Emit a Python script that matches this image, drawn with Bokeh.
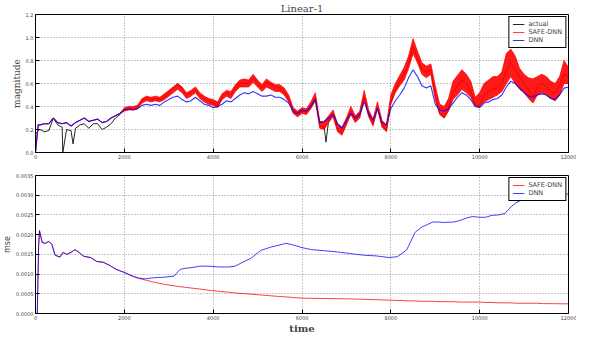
from bokeh.plotting import figure
from bokeh.layouts import column
from bokeh.models import Legend, LegendItem, NumeralTickFormatter, FixedTicker, Range1d
from bokeh.embed import file_html
from bokeh.resources import INLINE

# ---------------- data ----------------
time_top = [0, 60] + list(range(100, 12001, 100))

dnn_top = [0.0, 0.24,
    0.24, 0.25, 0.25, 0.30, 0.26, 0.25, 0.26, 0.23, 0.26, 0.28,
    0.30, 0.27, 0.28, 0.29, 0.26, 0.27, 0.30, 0.32, 0.34, 0.37,
    0.38, 0.37, 0.38, 0.41, 0.42, 0.41, 0.42, 0.41, 0.44, 0.46,
    0.48, 0.49, 0.46, 0.44, 0.45, 0.48, 0.45, 0.42, 0.41, 0.39,
    0.40, 0.42, 0.45, 0.44, 0.47, 0.50, 0.52, 0.51, 0.53, 0.51,
    0.49, 0.49, 0.50, 0.48, 0.48, 0.46, 0.43, 0.36, 0.34, 0.37,
    0.36, 0.40, 0.46, 0.26, 0.27, 0.30, 0.33, 0.25, 0.21, 0.28,
    0.34, 0.30, 0.33, 0.44, 0.34, 0.28, 0.38, 0.26, 0.24, 0.38,
    0.45, 0.50, 0.56, 0.65, 0.72, 0.66, 0.58, 0.56, 0.58, 0.42,
    0.37, 0.36, 0.38, 0.43, 0.48, 0.52, 0.50, 0.46, 0.40, 0.39,
    0.43, 0.44, 0.46, 0.47, 0.50, 0.57, 0.62, 0.60, 0.56, 0.52,
    0.49, 0.48, 0.50, 0.51, 0.50, 0.47, 0.46, 0.50, 0.56, 0.57]

actual_top = [0.16, 0.19,
    0.20, 0.18, 0.19, 0.30, 0.24, 0.22, 0.20, 0.19, 0.21, 0.24,
    0.25, 0.21, 0.25, 0.25, 0.20, 0.22, 0.25, 0.30, 0.33, 0.37,
    0.38, 0.38, 0.40, 0.45, 0.48, 0.46, 0.47, 0.46, 0.48, 0.52,
    0.56, 0.60, 0.55, 0.50, 0.52, 0.55, 0.50, 0.47, 0.45, 0.43,
    0.41, 0.48, 0.52, 0.50, 0.56, 0.61, 0.60, 0.60, 0.65, 0.60,
    0.56, 0.61, 0.59, 0.57, 0.56, 0.53, 0.47, 0.36, 0.33, 0.36,
    0.35, 0.41, 0.48, 0.23, 0.22, 0.28, 0.34, 0.20, 0.17, 0.26,
    0.36, 0.28, 0.33, 0.48, 0.33, 0.25, 0.40, 0.24, 0.19, 0.44,
    0.54, 0.62, 0.68, 0.78, 0.92, 0.82, 0.72, 0.70, 0.72, 0.50,
    0.34, 0.30, 0.38, 0.52, 0.58, 0.63, 0.60, 0.53, 0.42, 0.40,
    0.50, 0.53, 0.55, 0.56, 0.60, 0.72, 0.78, 0.72, 0.65, 0.60,
    0.55, 0.48, 0.57, 0.60, 0.58, 0.53, 0.52, 0.58, 0.68, 0.66]

safe_lo = [0.0, 0.24,
    0.24, 0.25, 0.25, 0.30, 0.26, 0.25, 0.26, 0.23, 0.26, 0.28,
    0.30, 0.27, 0.28, 0.29, 0.26, 0.27, 0.30, 0.32, 0.34, 0.36,
    0.37, 0.37, 0.38, 0.43, 0.45, 0.44, 0.45, 0.44, 0.46, 0.49,
    0.52, 0.55, 0.52, 0.47, 0.49, 0.52, 0.47, 0.44, 0.42, 0.41,
    0.39, 0.46, 0.49, 0.47, 0.53, 0.57, 0.57, 0.57, 0.61, 0.57,
    0.53, 0.57, 0.55, 0.53, 0.53, 0.50, 0.44, 0.34, 0.31, 0.34,
    0.33, 0.38, 0.45, 0.21, 0.20, 0.26, 0.31, 0.18, 0.15, 0.24,
    0.33, 0.26, 0.30, 0.46, 0.31, 0.23, 0.38, 0.22, 0.18, 0.42,
    0.52, 0.58, 0.63, 0.73, 0.86, 0.78, 0.68, 0.65, 0.68, 0.46,
    0.33, 0.30, 0.36, 0.46, 0.50, 0.55, 0.52, 0.48, 0.40, 0.40,
    0.44, 0.46, 0.48, 0.50, 0.53, 0.60, 0.66, 0.60, 0.55, 0.52,
    0.47, 0.43, 0.50, 0.52, 0.50, 0.47, 0.45, 0.50, 0.60, 0.60]

safe_hi = [0.0, 0.24,
    0.24, 0.25, 0.25, 0.30, 0.26, 0.25, 0.26, 0.23, 0.26, 0.28,
    0.30, 0.27, 0.28, 0.29, 0.26, 0.27, 0.30, 0.32, 0.34, 0.39,
    0.40, 0.40, 0.41, 0.47, 0.49, 0.48, 0.49, 0.48, 0.51, 0.54,
    0.57, 0.60, 0.57, 0.52, 0.54, 0.57, 0.52, 0.49, 0.47, 0.46,
    0.44, 0.51, 0.54, 0.53, 0.59, 0.63, 0.64, 0.63, 0.68, 0.63,
    0.59, 0.64, 0.61, 0.59, 0.59, 0.56, 0.50, 0.39, 0.36, 0.39,
    0.38, 0.44, 0.52, 0.27, 0.27, 0.32, 0.37, 0.25, 0.22, 0.30,
    0.40, 0.32, 0.36, 0.54, 0.37, 0.29, 0.44, 0.28, 0.24, 0.50,
    0.60, 0.67, 0.74, 0.84, 0.99, 0.88, 0.78, 0.75, 0.77, 0.58,
    0.42, 0.40, 0.47, 0.62, 0.67, 0.72, 0.68, 0.62, 0.48, 0.52,
    0.60, 0.63, 0.66, 0.66, 0.70, 0.86, 0.90, 0.84, 0.73, 0.68,
    0.65, 0.64, 0.66, 0.68, 0.66, 0.62, 0.60, 0.66, 0.80, 0.74]

spike_time = [615, 845, 6540]
spike_actual = [0.0, 0.075, 0.09]

time_mse = [40, 70, 90, 150, 220, 300, 370, 440, 550, 620, 700, 800, 890, 980,
    1090, 1240, 1380, 1525, 1670, 1815, 2000, 2180, 2320, 2470, 2680, 2900,
    3120, 3260, 3400, 3550, 3700, 3910, 4130, 4350, 4490, 4630, 4850, 5070,
    5290, 5500, 5650, 5860, 6000, 6220, 6510, 6800, 7090, 7380, 7670, 7960,
    8145, 8250, 8360, 8440, 8540, 8680, 8830, 8940, 9050, 9190, 9410, 9560,
    9700, 9840, 9990, 10130, 10280, 10430, 10570, 10710, 10820, 10930, 11070,
    11290, 11440, 11660, 11880, 12000]

dnn_mse = [0.0, 0.0017, 0.0021, 0.0018, 0.00178, 0.00183, 0.00175, 0.00148,
    0.00143, 0.00155, 0.0015, 0.00155, 0.00162, 0.00155, 0.00145, 0.00142,
    0.00132, 0.0013, 0.00122, 0.00112, 0.00104, 0.00095, 0.0009, 0.00088,
    0.00091, 0.00092, 0.00095, 0.00112, 0.00115, 0.00117, 0.0012, 0.0012,
    0.00118, 0.00118, 0.0012, 0.00128, 0.0014, 0.0016, 0.00168, 0.00174,
    0.00178, 0.00172, 0.00167, 0.00162, 0.00159, 0.00156, 0.00152, 0.00148,
    0.00146, 0.00142, 0.00144, 0.00152, 0.00162, 0.00181, 0.00205, 0.00218,
    0.00226, 0.00232, 0.00232, 0.00231, 0.00232, 0.00236, 0.00242, 0.00246,
    0.00244, 0.00244, 0.00249, 0.0025, 0.00254, 0.00271, 0.00281, 0.00287,
    0.0029, 0.00294, 0.00296, 0.003, 0.00302, 0.00304]

safe_mse = [0.0, 0.0017, 0.0021, 0.0018, 0.00178, 0.00183, 0.00175, 0.00148,
    0.00143, 0.00155, 0.0015, 0.00155, 0.00162, 0.00155, 0.00145, 0.00142,
    0.00132, 0.0013, 0.00122, 0.00112, 0.00104, 0.00095, 0.00089, 0.00085,
    0.00079, 0.00074, 0.0007, 0.00068, 0.00066, 0.00064, 0.00062, 0.00059,
    0.00056, 0.00054, 0.00052, 0.00051, 0.00049, 0.00047, 0.00045, 0.00043,
    0.00042, 0.0004, 0.00039, 0.000385, 0.00038, 0.000375, 0.00037, 0.00036,
    0.00035, 0.00034, 0.00033, 0.00033, 0.00032, 0.00032, 0.00032, 0.00031,
    0.00031, 0.00031, 0.0003, 0.0003, 0.0003, 0.00029, 0.00029, 0.00029,
    0.00029, 0.00028, 0.00028, 0.00027, 0.00027, 0.00027, 0.00026, 0.00026,
    0.00026, 0.00026, 0.00025, 0.00025, 0.000245, 0.000245]

x_ticks = [0, 2000, 4000, 6000, 8000, 10000, 12000]
top_ticks = [0.0, 0.2, 0.4, 0.6, 0.8, 1.0, 1.2]
mse_ticks = [0.0, 0.0005, 0.001, 0.0015, 0.002, 0.0025, 0.003, 0.0035]

# merge the narrow spikes into the actual series
pairs = sorted(list(zip(time_top, actual_top)) + list(zip(spike_time, spike_actual)))
act_t = [a for a, b in pairs]
act_y = [b for a, b in pairs]

SERIF = "DejaVu Serif"
SANS = "DejaVu Sans"


def style(p, yticks, yfmt):
    p.outline_line_color = "black"
    p.outline_line_width = 1
    p.outline_line_alpha = 1
    for ax in (p.xaxis[0], p.yaxis[0]):
        ax.major_tick_in = 4
        ax.major_tick_out = 0
        ax.minor_tick_line_color = None
        ax.axis_line_color = "black"
        ax.major_label_text_font = SANS
        ax.major_label_text_font_size = "5px"
        ax.major_label_standoff = 2
        ax.axis_label_standoff = 1
    p.xaxis[0].ticker = FixedTicker(ticks=x_ticks)
    p.yaxis[0].ticker = FixedTicker(ticks=yticks)
    p.yaxis[0].formatter = NumeralTickFormatter(format=yfmt)
    for g in (p.xgrid[0], p.ygrid[0]):
        g.grid_line_color = "black"
        g.grid_line_alpha = 0.55
        g.grid_line_dash = "1 2"
        g.grid_line_width = 0.8
    p.background_fill_color = "white"
    p.border_fill_color = "white"


def legend_style(lg):
    lg.location = "top_right"
    lg.border_line_color = "black"
    lg.border_line_width = 1
    lg.border_line_alpha = 1
    lg.label_text_font = SANS
    lg.label_text_font_size = "6.5px"
    lg.label_height = 8
    lg.glyph_height = 8
    lg.glyph_width = 12
    lg.label_standoff = 4
    lg.spacing = 0
    lg.padding = 3
    lg.margin = 2
    lg.background_fill_alpha = 1


# ---------------- top panel ----------------
p1 = figure(width=576, frame_height=138, x_range=Range1d(0, 12000), y_range=Range1d(0, 1.2),
            output_backend="svg", toolbar_location=None,
            min_border_left=20, min_border_right=8, min_border_top=0, min_border_bottom=0)
p1.title.text = "Linear-1"
p1.title.align = "center"
p1.title.text_font = SERIF
p1.title.text_font_size = "10px"
p1.title.text_font_style = "normal"
p1.title.standoff = 1
p1.title.offset = 0
style(p1, top_ticks, "0.0")
p1.yaxis[0].axis_label = "magnitude"
p1.yaxis[0].axis_label_text_font = SERIF
p1.yaxis[0].axis_label_text_font_size = "9px"
p1.yaxis[0].axis_label_text_font_style = "normal"

r_act = p1.line(act_t, act_y, color="black", line_width=1, line_alpha=0.85)
p1.varea(x=time_top, y1=safe_lo, y2=safe_hi, fill_color="#ff0000", fill_alpha=0.9)
r_safe_lo = p1.line(time_top, safe_lo, color="#ff0000", line_width=1, line_alpha=0.75)
r_safe = p1.line(time_top, safe_hi, color="#ff0000", line_width=1, line_alpha=0.75)
r_dnn = p1.line(time_top, dnn_top, color="#0000ff", line_width=1.1, line_alpha=0.8)

lg1 = Legend(items=[LegendItem(label="actual", renderers=[r_act]),
                    LegendItem(label="SAFE-DNN", renderers=[r_safe]),
                    LegendItem(label="DNN", renderers=[r_dnn])])
legend_style(lg1)
p1.add_layout(lg1)

# ---------------- bottom panel ----------------
p2 = figure(width=576, frame_height=138, x_range=Range1d(0, 12000), y_range=Range1d(0, 0.0035),
            output_backend="svg", toolbar_location=None,
            min_border_left=20, min_border_right=8, min_border_top=14, min_border_bottom=0)
style(p2, mse_ticks, "0.0000")
p2.yaxis[0].axis_label = "mse"
p2.yaxis[0].axis_label_text_font = SANS
p2.yaxis[0].axis_label_text_font_size = "8px"
p2.yaxis[0].axis_label_text_font_style = "normal"
p2.xaxis[0].axis_label = "time"
p2.xaxis[0].axis_label_text_font = SERIF
p2.xaxis[0].axis_label_text_font_size = "10px"
p2.xaxis[0].axis_label_text_font_style = "bold"
p2.xaxis[0].axis_label_standoff = 0

r_safe2 = p2.line(time_mse, safe_mse, color="#ff0000", line_width=1, line_alpha=0.75)
r_dnn2 = p2.line(time_mse, dnn_mse, color="#0000ff", line_width=1, line_alpha=0.75)

lg2 = Legend(items=[LegendItem(label="SAFE-DNN", renderers=[r_safe2]),
                    LegendItem(label="DNN", renderers=[r_dnn2])])
legend_style(lg2)
p2.add_layout(lg2)

layout = column(p1, p2, spacing=0)
open("out.html", "w").write(file_html(layout, INLINE))
